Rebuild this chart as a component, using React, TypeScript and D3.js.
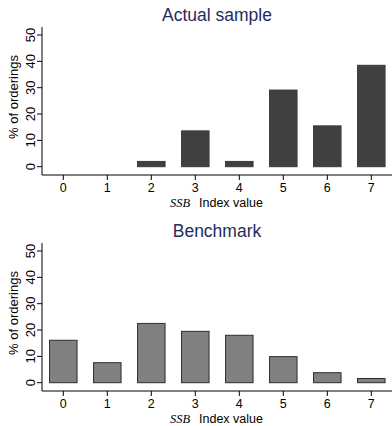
import React from "react";
import * as d3 from "d3";

// index values on the x axis
const categories = [0, 1, 2, 3, 4, 5, 6, 7];
// % of orderings, actual sample
const actualValues = [0, 0, 2.0, 13.6, 2.0, 29.1, 15.5, 38.5];
// % of orderings, benchmark
const benchmarkValues = [16.1, 7.6, 22.5, 19.5, 18.0, 9.9, 3.8, 1.6];
const yTicks = [0, 10, 20, 30, 40, 50];

const FONT = "'Liberation Sans', Arial, sans-serif";
const TITLE_COLOR = "#1f2d5c";

type PanelProps = {
  top: number;
  title: string;
  values: number[];
  fill: string;
  stroke: string;
};

const Panel = ({ top, title, values, fill, stroke }: PanelProps) => {
  const left = 42;
  const right = 392;
  const axisY = 175;

  const xScale = d3.scaleLinear().domain([0, 7]).range([63.3, 371.3]);
  const yScale = d3.scaleLinear().domain([0, 50]).range([166.7, 35]);
  const barW = 27.5;

  return (
    <g transform={`translate(0,${top})`}>
      <text x={217} y={15} textAnchor="middle" dominantBaseline="central"
        fontFamily={FONT} fontSize={17.5} fill={TITLE_COLOR}>{title}</text>

      {values.map((v, i) => {
        if (v <= 0) return null;
        const y = yScale(v);
        return (
          <rect key={i} x={xScale(categories[i]) - barW / 2} y={y}
            width={barW} height={yScale(0) - y}
            fill={fill} stroke={stroke} strokeWidth={1} />
        );
      })}

      {/* y axis */}
      <line x1={left} x2={left} y1={27} y2={axisY} stroke="#000" strokeWidth={1} />
      {yTicks.map((t) => (
        <g key={t} transform={`translate(0,${yScale(t)})`}>
          <line x1={left - 5} x2={left} stroke="#000" />
          <text transform={`translate(30,0) rotate(-90)`} textAnchor="middle"
            dominantBaseline="central" fontFamily={FONT} fontSize={13} fill="#000">{t}</text>
        </g>
      ))}
      <text transform={`translate(13,97) rotate(-90)`} textAnchor="middle"
        dominantBaseline="central" fontFamily={FONT} fontSize={13} fill="#000">% of orderings</text>

      {/* x axis */}
      <line x1={left} x2={right} y1={axisY} y2={axisY} stroke="#000" strokeWidth={1.2} />
      {categories.map((c) => (
        <g key={c} transform={`translate(${xScale(c)},0)`}>
          <line y1={axisY} y2={axisY + 5} stroke="#000" />
          <text y={188} textAnchor="middle" dominantBaseline="central"
            fontFamily={FONT} fontSize={12.5} fill="#000">{c}</text>
        </g>
      ))}
      <text y={202.5} dominantBaseline="central" fill="#000">
        <tspan x={170} fontFamily="'Liberation Serif', 'DejaVu Serif', serif"
          fontStyle="italic" fontSize={12.5}>SSB</tspan>
        <tspan x={199} fontFamily={FONT} fontSize={12.5}>Index value</tspan>
      </text>
    </g>
  );
};

export default function App() {
  return (
    <svg width={392} height={426}
      style={{ position: "absolute", left: 0, top: 0, background: "#fff" }}>
      <Panel top={0} title="Actual sample" values={actualValues} fill="#404040" stroke="#3a3a3a" />
      <Panel top={216} title="Benchmark" values={benchmarkValues} fill="#808080" stroke="#2e2e2e" />
    </svg>
  );
}
